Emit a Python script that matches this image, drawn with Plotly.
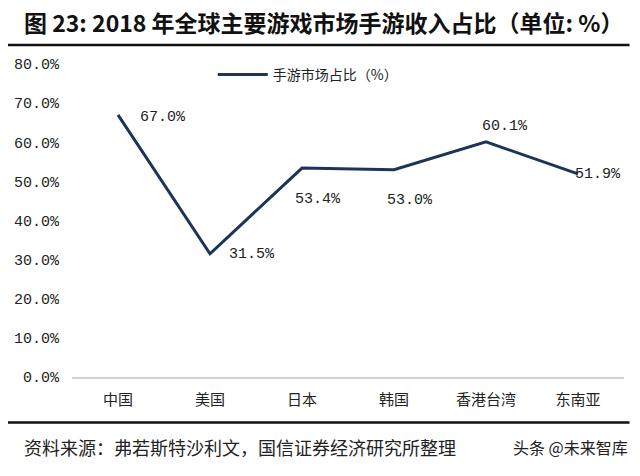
import plotly.graph_objects as go

categories = ["中国", "美国", "日本", "韩国", "香港台湾", "东南亚"]
share = [67.0, 31.5, 53.4, 53.0, 60.1, 51.9]
label_text = ["67.0%", "31.5%", "53.4%", "53.0%", "60.1%", "51.9%"]
label_dx = [45, 42, 16, 16, 19, 20]
label_dy = [-3, -1, -31, -31, 15, -1]
y_ticks = [0, 10, 20, 30, 40, 50, 60, 70, 80]
y_tick_text = ["0.0%", "10.0%", "20.0%", "30.0%", "40.0%", "50.0%", "60.0%", "70.0%", "80.0%"]

NAVY = "#1c3557"
MONO = "Liberation Mono, Noto Sans CJK SC"
CJK = "Noto Sans CJK SC"

fig = go.Figure()
fig.add_trace(go.Scatter(
    x=categories, y=share, mode="lines", name="手游市场占比（%）",
    line=dict(color=NAVY, width=3),
))

for c, v, t, dx, dy in zip(categories, share, label_text, label_dx, label_dy):
    fig.add_annotation(x=c, y=v, text=t, showarrow=False,
                       xshift=dx, yshift=dy,
                       font=dict(family=MONO, size=15, color="#222"))

fig.add_annotation(xref="paper", yref="paper", x=-0.0906, y=1.0, yshift=42,
                   xanchor="left", yanchor="middle", showarrow=False,
                   text="<b>图 23: 2018 年全球主要游戏市场手游收入占比（单位: %）</b>",
                   font=dict(family=CJK, size=23, color="#111"))
fig.add_annotation(xref="paper", yref="paper", x=-0.0906, y=0, yshift=-70,
                   xanchor="left", yanchor="middle", showarrow=False,
                   text="资料来源：弗若斯特沙利文，国信证券经济研究所整理",
                   font=dict(family=CJK, size=18, color="#222"))
fig.add_annotation(xref="paper", yref="paper", x=1.01, y=0, yshift=-70,
                   xanchor="right", yanchor="middle", showarrow=False,
                   text="头条 @未来智库",
                   font=dict(family=CJK, size=16, color="#222"))

fig.add_shape(type="line", xref="paper", yref="paper", x0=-0.116, x1=1.01,
              y0=1.061, y1=1.061, line=dict(color="#111", width=2.5))
fig.add_shape(type="line", xref="paper", yref="paper", x0=-0.116, x1=1.01,
              y0=-0.145, y1=-0.145, line=dict(color="#111", width=2.5))

fig.update_layout(
    width=640, height=476,
    margin=dict(l=72, r=16, t=64, b=99),
    paper_bgcolor="white", plot_bgcolor="white",
    showlegend=True,
    legend=dict(x=0.255, y=0.965, xanchor="left", yanchor="middle",
                orientation="h", itemwidth=50,
                font=dict(family=CJK, size=14, color="#222"),
                bgcolor="rgba(0,0,0,0)"),
    xaxis=dict(type="category", range=[-0.5, 5.5], showgrid=False,
               showline=True, linecolor="#d0d0d0", linewidth=1.5,
               ticks="", ticklabelstandoff=8,
               tickfont=dict(family=CJK, size=15, color="#222"),
               zeroline=False),
    yaxis=dict(range=[0, 80], tickvals=y_ticks, ticktext=y_tick_text,
               showgrid=False, zeroline=False, showline=False, ticks="",
               ticklabelstandoff=12,
               tickfont=dict(family=MONO, size=15, color="#222")),
)

fig.write_html("out.html")
